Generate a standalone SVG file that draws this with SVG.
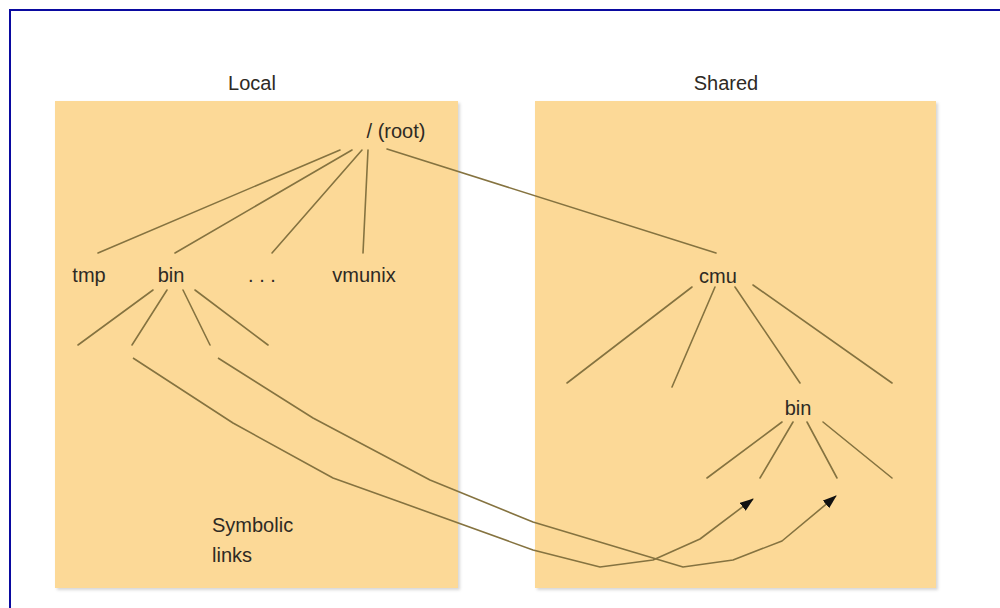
<svg xmlns="http://www.w3.org/2000/svg" width="1000" height="608" viewBox="0 0 1000 608">
  <defs>
    <marker id="arrow" viewBox="0 0 14 10" refX="13" refY="5" markerWidth="14" markerHeight="10" markerUnits="userSpaceOnUse" orient="auto">
      <path d="M0,0 L14,5 L0,10 Z" fill="#111"/>
    </marker>
    <filter id="shadow" x="-5%" y="-5%" width="112%" height="112%">
      <feDropShadow dx="2" dy="2" stdDeviation="1.5" flood-color="#999" flood-opacity="0.4"/>
    </filter>
  </defs>
  <style>
    .panel { fill: #FCD997; }
    .lbl { font-family: "Liberation Sans", Arial, sans-serif; font-size: 20px; fill: #2e2a24; }
    .edge { fill: none; stroke: #857340; stroke-width: 1.6; stroke-linecap: round; stroke-linejoin: round; }
    .link { fill: none; stroke: #857340; stroke-width: 1.6; stroke-linejoin: round; marker-end: url(#arrow); }
  </style>
  <rect x="0" y="0" width="1000" height="608" fill="#ffffff"/>
  <rect x="10" y="10" width="1010" height="620" fill="none" stroke="#0a0aa0" stroke-width="2"/>

  <g id="panel-local">
    <rect class="panel" x="55" y="101" width="403" height="487" filter="url(#shadow)"/>
    <text class="lbl" x="252" y="90" text-anchor="middle">Local</text>
  </g>
  <g id="panel-shared">
    <rect class="panel" x="535" y="101" width="401" height="487" filter="url(#shadow)"/>
    <text class="lbl" x="726" y="90" text-anchor="middle">Shared</text>
  </g>

  <g id="node-root"><text class="lbl" x="396" y="138" text-anchor="middle">/ (root)</text></g>
  <g id="node-tmp"><text class="lbl" x="89" y="282" text-anchor="middle">tmp</text></g>
  <g id="node-bin-local"><text class="lbl" x="171" y="282" text-anchor="middle">bin</text></g>
  <g id="node-dots"><text class="lbl" x="262" y="282" text-anchor="middle">. . .</text></g>
  <g id="node-vmunix"><text class="lbl" x="364" y="282" text-anchor="middle">vmunix</text></g>
  <g id="node-cmu"><text class="lbl" x="718" y="283" text-anchor="middle">cmu</text></g>
  <g id="node-bin-shared"><text class="lbl" x="798" y="415" text-anchor="middle">bin</text></g>
  <g id="note-symbolic">
    <text class="lbl" x="212" y="532">Symbolic</text>
    <text class="lbl" x="212" y="562">links</text>
  </g>

  <g id="connectors">
    <line class="edge" x1="340" y1="150" x2="98" y2="253"/>
    <line class="edge" x1="352" y1="150" x2="175" y2="253"/>
    <line class="edge" x1="362" y1="150" x2="272" y2="253"/>
    <line class="edge" x1="368" y1="150" x2="363" y2="253"/>
    <line class="edge" x1="387" y1="149" x2="716" y2="253"/>

    <line class="edge" x1="153" y1="290" x2="78" y2="345"/>
    <line class="edge" x1="167" y1="290" x2="132" y2="345"/>
    <line class="edge" x1="183" y1="290" x2="210" y2="345"/>
    <line class="edge" x1="195" y1="290" x2="268" y2="345"/>

    <line class="edge" x1="692" y1="287" x2="567" y2="383"/>
    <line class="edge" x1="715" y1="287" x2="672" y2="387"/>
    <line class="edge" x1="735" y1="287" x2="800" y2="383"/>
    <line class="edge" x1="753" y1="285" x2="892" y2="383"/>

    <line class="edge" x1="782" y1="422" x2="707" y2="478"/>
    <line class="edge" x1="793" y1="422" x2="760" y2="478"/>
    <line class="edge" x1="807" y1="422" x2="837" y2="478"/>
    <line class="edge" x1="823" y1="422" x2="892" y2="478"/>

    <polyline class="link" points="133,358 233,423 333,478 400,502 533,550 600,567 653,560 700,539 753,499"/>
    <polyline class="link" points="218,358 313,418 430,480 533,522 683,567 733,560 782,541 836,496"/>
  </g>
</svg>
